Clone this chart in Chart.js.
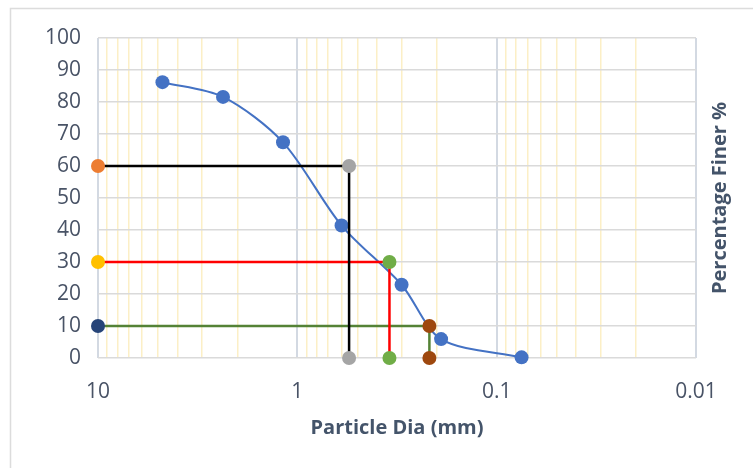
<!DOCTYPE html>
<html>
<head>
<meta charset="utf-8">
<script src="https://cdn.jsdelivr.net/npm/chart.js@4.4.1/dist/chart.umd.min.js"></script>
<style>
  html, body { margin: 0; padding: 0; background: #ffffff; }
  #wrap { position: relative; width: 753px; height: 468px; }
</style>
</head>
<body>
<div id="wrap"><canvas id="c" width="753" height="468"></canvas></div>
<script>
// ---- data ----
const sieveDia = [4.75, 2.36, 1.18, 0.6, 0.3, 0.19, 0.075];       // mm
const percentFiner = [86.2, 81.6, 67.4, 41.4, 22.9, 5.9, 0.2];    // %

const d60Line = { dia: [10, 0.55, 0.55], pct: [60, 60, 0] };
const d30Line = { dia: [10, 0.345, 0.345], pct: [30, 30, 0] };
const d10Line = { dia: [10, 0.2175, 0.2175], pct: [10, 10, 0] };

const xTickLabels = [10, 1, 0.1, 0.01];
const yTickLabels = [0, 10, 20, 30, 40, 50, 60, 70, 80, 90, 100];

const xTitle = 'Particle Dia (mm)';
const yTitle = 'Percentage Finer %';

// ---- helpers ----
const toPts = (xs, ys) => xs.map((x, i) => ({ x: x, y: ys[i] }));
const isMajor = v => xTickLabels.some(m => Math.abs(v - m) / m < 1e-6);

const FONT = '"Open Sans", "DejaVu Sans", sans-serif';
const TXT = '#495366';

const frame = {
  id: 'frame',
  beforeDraw(chart) {
    const ctx = chart.ctx;
    ctx.save();
    ctx.fillStyle = '#ffffff';
    ctx.fillRect(0, 0, chart.width, chart.height);
    ctx.strokeStyle = '#dcdcdc';
    ctx.lineWidth = 1.5;
    ctx.strokeRect(10.5, 8.5, 800, 600);
    ctx.restore();
  },
  afterDraw(chart) {
    const ctx = chart.ctx;
    const a = chart.chartArea;
    ctx.save();
    ctx.translate(720, (a.top + a.bottom) / 2);
    ctx.rotate(-Math.PI / 2);
    ctx.font = 'bold 20px ' + FONT;
    ctx.fillStyle = '#44546A';
    ctx.textAlign = 'center';
    ctx.textBaseline = 'middle';
    ctx.fillText(yTitle, 0, 0);
    ctx.restore();
  }
};

function refLine(obj, lineColor, ptColors) {
  return {
    data: toPts(obj.dia, obj.pct),
    borderColor: lineColor,
    borderWidth: 2.5,
    pointBackgroundColor: ptColors,
    pointBorderColor: ptColors,
    pointRadius: 7,
    pointBorderWidth: 0,
    tension: 0,
    clip: false,
    order: 1
  };
}

new Chart(document.getElementById('c'), {
  type: 'line',
  data: {
    datasets: [
      refLine(d60Line, '#000000', ['#ED7D31', '#A5A5A5', '#A5A5A5']),
      refLine(d30Line, '#FF0000', ['#FFC000', '#70AD47', '#70AD47']),
      refLine(d10Line, '#548235', ['#264478', '#9E480E', '#9E480E']),
      {
        data: toPts(sieveDia, percentFiner),
        borderColor: '#4472C4',
        borderWidth: 2,
        pointBackgroundColor: '#4472C4',
        pointBorderColor: '#4472C4',
        pointRadius: 7,
        pointBorderWidth: 0,
        tension: 0.3,
        cubicInterpolationMode: 'default',
        clip: false,
        order: 2
      }
    ]
  },
  options: {
    responsive: false,
    animation: false,
    events: [],
    layout: { padding: { left: 0, top: 38, right: 57, bottom: 0 } },
    plugins: { legend: { display: false }, tooltip: { enabled: false } },
    scales: {
      x: {
        type: 'logarithmic',
        reverse: true,
        min: 0.01,
        max: 10,
        afterBuildTicks(axis) {
          const t = [];
          [0.01, 0.1, 1].forEach(d => {
            for (let m = 1; m <= 9; m++) t.push({ value: +(d * m).toPrecision(6) });
          });
          t.push({ value: 10 });
          axis.ticks = t.reverse();
        },
        afterFit(s) { s.height = 110; },
        ticks: {
          autoSkip: false,
          maxRotation: 0,
          padding: 21,
          color: TXT,
          font: { family: FONT, size: 21 },
          callback: (v) => isMajor(v) ? String(xTickLabels.find(m => Math.abs(v - m) / m < 1e-6)) : ''
        },
        grid: {
          drawTicks: false,
          color: c => isMajor(c.tick.value) ? '#d3d9e2' : '#fcefc6',
          lineWidth: c => isMajor(c.tick.value) ? 2 : 1.5
        },
        border: { display: false },
        title: {
          display: true,
          text: xTitle,
          color: '#44546A',
          font: { family: FONT, size: 20, weight: 'bold' },
          padding: { top: 0, bottom: 28 }
        }
      },
      y: {
        min: 0,
        max: 100,
        afterBuildTicks(axis) { axis.ticks = yTickLabels.map(v => ({ value: v })); },
        afterFit(s) { s.width = 98; },
        ticks: {
          padding: 17,
          color: TXT,
          font: { family: FONT, size: 21 }
        },
        grid: {
          drawTicks: false,
          color: '#dadada',
          lineWidth: 1.5
        },
        border: { display: false }
      }
    }
  },
  plugins: [frame]
});
</script>
</body>
</html>
